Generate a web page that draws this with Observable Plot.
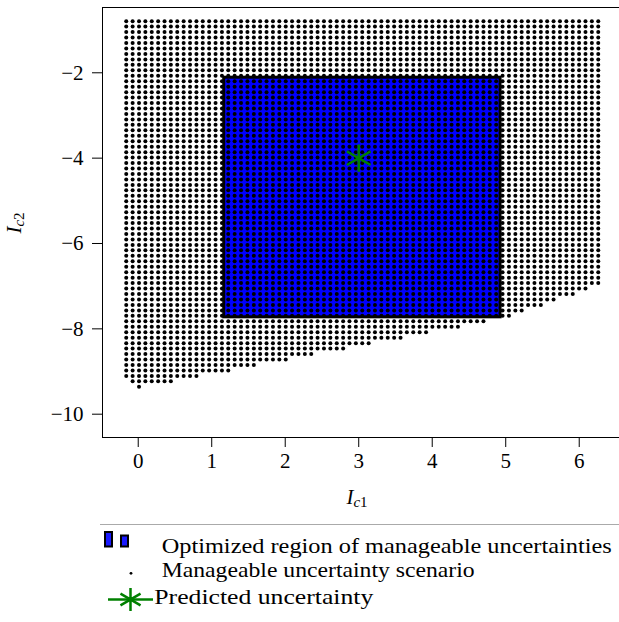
<!DOCTYPE html>
<html><head><meta charset="utf-8">
<script src="https://cdn.jsdelivr.net/npm/d3@7"></script>
<script src="https://cdn.jsdelivr.net/npm/@observablehq/plot@0.6"></script>
<style>
html,body{margin:0;padding:0;background:#fff;overflow:hidden}
#chart{position:relative;width:619px;height:622px}
#chart svg{display:block}
#chart svg text{font-family:"Liberation Serif",serif !important}
</style></head><body><div id="chart"></div>
<script>
// Grid of I_c1 values (columns) and I_c2 values (rows, bottom to top)
const ic1Values = [-0.163,-0.076,0.011,0.097,0.184,0.271,0.358,0.444,0.531,0.618,
  0.705,0.792,0.878,0.965,1.052,1.139,1.225,1.312,1.399,1.486,
  1.573,1.659,1.746,1.833,1.920,2.007,2.093,2.180,2.267,2.354,
  2.440,2.527,2.614,2.701,2.788,2.874,2.961,3.048,3.135,3.221,
  3.308,3.395,3.482,3.569,3.655,3.742,3.829,3.916,4.002,4.089,
  4.176,4.263,4.350,4.436,4.523,4.610,4.697,4.783,4.870,4.957,
  5.044,5.131,5.217,5.304,5.391,5.478,5.564,5.651,5.738,5.825,
  5.912,5.998,6.085,6.172,6.259];
const ic2Values = [-9.358,-9.230,-9.102,-8.974,-8.847,-8.719,-8.591,-8.463,-8.335,-8.207,
  -8.079,-7.951,-7.824,-7.696,-7.568,-7.440,-7.312,-7.184,-7.056,-6.928,
  -6.801,-6.673,-6.545,-6.417,-6.289,-6.161,-6.033,-5.905,-5.778,-5.650,
  -5.522,-5.394,-5.266,-5.138,-5.010,-4.882,-4.755,-4.627,-4.499,-4.371,
  -4.243,-4.115,-3.987,-3.859,-3.732,-3.604,-3.476,-3.348,-3.220,-3.092,
  -2.964,-2.836,-2.709,-2.581,-2.453,-2.325,-2.197,-2.069,-1.941,-1.813,
  -1.686,-1.558,-1.430,-1.302,-1.174,-1.046,-0.918,-0.790];
// first / last column index of the lowest rows (other rows span all columns)
const rowFirstCol = [2, 1];
const rowLastCol = [2,7,11,16,20,25,29,34,38,43,47,52,56,60,62,65,67,70,72];
// optimized region and predicted uncertainty
const regionIc1 = [1.17, 4.93];
const regionIc2 = [-7.73, -2.115];
const predictedIc1 = [3];
const predictedIc2 = [-4];
const xTicks = [0, 1, 2, 3, 4, 5, 6];
const yTicks = [-10, -8, -6, -4, -2];
const legendLabels = ["Optimized region of manageable uncertainties", "Manageable uncertainty scenario", "Predicted uncertainty"];

const scenarios = [];
ic2Values.forEach((y, r) => {
  const c0 = r < rowFirstCol.length ? rowFirstCol[r] : 0;
  const c1 = r < rowLastCol.length ? rowLastCol[r] : ic1Values.length - 1;
  for (let c = c0; c <= c1; c++) scenarios.push({ic1: ic1Values[c], ic2: y});
});
const region = [{x1: regionIc1[0], x2: regionIc1[1], y1: regionIc2[0], y2: regionIc2[1]}];
const predicted = predictedIc1.map((v, i) => ({ic1: v, ic2: predictedIc2[i]}));

const FONT = "Liberation Serif";
const fmt = d3.format("d");
const xDom = [-0.486, 6.548], yDom = [-10.546, -0.470];
const plot = Plot.plot({
  width: 619, height: 515,
  marginLeft: 102, marginRight: 0, marginTop: 7, marginBottom: 78,
  style: {fontFamily: FONT, fontSize: "21px", color: "#000", background: "#fff", overflow: "visible"},
  x: {domain: xDom, ticks: xTicks, tickSize: 10, tickPadding: 6, label: null, tickFormat: fmt},
  y: {domain: yDom, ticks: yTicks, tickSize: 10, tickPadding: 9, label: null, tickFormat: fmt},
  marks: [
    Plot.rect(region, {x1: "x1", x2: "x2", y1: "y1", y2: "y2", fill: "#0000ff"}),
    Plot.dot(scenarios, {x: "ic1", y: "ic2", r: 2, fill: "#000", stroke: null}),
    Plot.rect(region, {x1: "x1", x2: "x2", y1: "y1", y2: "y2", fill: "none", stroke: "#000", strokeWidth: 3}),
    Plot.dot(predicted, {x: "ic1", y: "ic2", symbol: "asterisk", r: 13, stroke: "#008000", strokeWidth: 2.5}),
    Plot.ruleX([xDom[0]], {stroke: "#000"}),
    Plot.ruleY([yDom[0]], {stroke: "#000"}),
    Plot.ruleY([yDom[1]], {stroke: "#000"})
  ]
});

const svg = d3.select(plot);
svg.selectAll("text").attr("font-family", FONT);
function subLabel(sel, sub) {
  sel.attr("font-family", FONT).attr("font-size", 21).attr("fill", "#000").attr("text-anchor", "middle");
  sel.append("tspan").attr("font-style", "italic").text("I");
  sel.append("tspan").attr("font-style", "italic").attr("font-size", 15).attr("dy", 3).text("c");
  sel.append("tspan").attr("font-size", 15).text(sub);
}
subLabel(svg.append("text").attr("x", 357).attr("y", 504), "1");
subLabel(svg.append("g").attr("transform", "translate(21,223) rotate(-90)").append("text"), "2");

const chart = document.getElementById("chart");
chart.appendChild(plot);

// Legend below the plot
const leg = d3.create("svg").attr("width", 619).attr("height", 107).style("display", "block");
leg.append("line").attr("x1", 100).attr("x2", 619).attr("y1", 9.5).attr("y2", 9.5).attr("stroke", "#aaa");
leg.append("rect").attr("x", 105).attr("y", 17).attr("width", 7).attr("height", 14.5).attr("fill", "#1a1aff").attr("stroke", "#000").attr("stroke-width", 2);
leg.append("rect").attr("x", 121).attr("y", 20.5).attr("width", 7).attr("height", 11).attr("fill", "#1a1aff").attr("stroke", "#000").attr("stroke-width", 2);
leg.append("circle").attr("cx", 131).attr("cy", 58.3).attr("r", 1.4).attr("fill", "#000");
leg.append("line").attr("x1", 108).attr("x2", 153).attr("y1", 84.5).attr("y2", 84.5).attr("stroke", "#008000").attr("stroke-width", 2.5);
leg.append("path").attr("transform", "translate(130.5,84.5)")
  .attr("d", d3.symbol(d3.symbolAsterisk, Math.PI * 11 * 11)())
  .attr("stroke", "#008000").attr("stroke-width", 2.5).attr("fill", "none");
const rows = [{x: 161.7, y: 38, len: 450}, {x: 161.7, y: 62.3, len: 313}, {x: 154.3, y: 89, len: 219}];
legendLabels.forEach((t, i) => {
  leg.append("text").attr("x", rows[i].x).attr("y", rows[i].y)
    .attr("font-family", FONT).attr("font-size", 21).attr("fill", "#000")
    .attr("textLength", rows[i].len).attr("lengthAdjust", "spacingAndGlyphs").text(t);
});
chart.appendChild(leg.node());
</script>
</body></html>
